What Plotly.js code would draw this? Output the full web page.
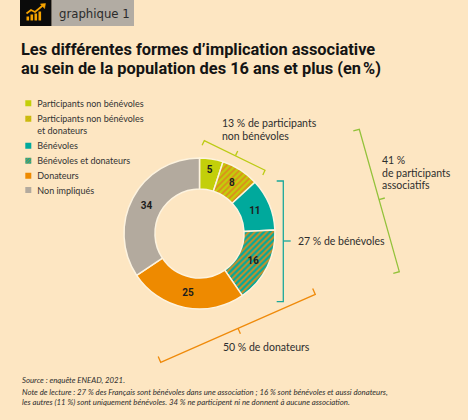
<!DOCTYPE html>
<html><head><meta charset="utf-8">
<script src="https://cdn.plot.ly/plotly-3.0.1.min.js"></script>
<style>html,body{margin:0;padding:0;background:#fde6c2;}#chart{width:468px;height:420px;}</style>
</head><body><div id="chart"></div>
<script>
// ---- data ----
var categories = ['Participants non bénévoles', 'Participants non bénévoles<br>et donateurs', 'Bénévoles', 'Bénévoles et donateurs', 'Donateurs', 'Non impliqués'];
var values = [5, 8, 11, 16, 25, 34];
var sliceColors = ['#c3cf0a', '#c3cf0a', '#00a99c', '#00a99c', '#ee8a00', '#b3aa9e'];
var stripeShapes = ['', '/', '', '/', '', ''];
var stripeColor = '#dc8c1c';
var bracketTexts = ['13 % de participants', 'non bénévoles', '27 % de bénévoles', '41 %', 'de participants', 'associatifs', '50 % de donateurs'];
var titleLines = ['Les différentes formes d\u2019implication associative', 'au sein de la population des 16 ans et plus (en\u202f%)'];
var footLines = ['Source : enquête ENEAD, 2021.',
  'Note de lecture : 27 % des Français sont bénévoles dans une association ; 16 % sont bénévoles et aussi donateurs,',
  'les autres (11 %) sont uniquement bénévoles. 34 % ne participent ni ne donnent à aucune association.'];

var W = 468, H = 420;
function px(x){ return x / W; }
function py(y){ return 1 - y / H; }
function path(pts){ return pts.map(function(p, i){ return (i ? 'L' : 'M') + px(p[0]).toFixed(5) + ',' + py(p[1]).toFixed(5); }).join(' '); }

var txtFont = 'Lato, "Open Sans", sans-serif';
var dark = '#2e2e2e';

var trace = {
  type: 'pie',
  labels: categories,
  values: values,
  sort: false,
  direction: 'clockwise',
  rotation: 0,
  hole: 0.59,
  domain: {x: [px(124), px(275)], y: [py(309), py(158)]},
  marker: {
    colors: sliceColors,
    line: {color: '#fdf3df', width: 1.5},
    pattern: {shape: stripeShapes, fgcolor: stripeColor, bgcolor: sliceColors, fillmode: 'replace', size: 4.2, solidity: 0.45}
  },
  textinfo: 'value',
  textposition: 'inside',
  insidetextorientation: 'horizontal',
  insidetextfont: {family: 'Roboto, sans-serif', size: 10, color: '#1d1d1d', weight: 'bold'},
  hoverinfo: 'skip',
  showlegend: true
};

var shapes = [
  {type: 'rect', xref: 'paper', yref: 'paper', x0: px(20), x1: px(51.7), y0: py(26), y1: py(0), fillcolor: '#0b0b0b', line: {width: 0}},
  {type: 'rect', xref: 'paper', yref: 'paper', x0: px(51.7), x1: px(134), y0: py(26), y1: py(0), fillcolor: '#b2aca3', line: {width: 0}}
];
// icon bars
[[26.5, 16.5], [30.5, 14.5], [34.5, 13.5], [38.5, 11.5]].forEach(function(b){
  shapes.push({type: 'rect', xref: 'paper', yref: 'paper', x0: px(b[0]), x1: px(b[0] + 2.6), y0: py(20.5), y1: py(b[1]), fillcolor: '#f5a300', line: {width: 0}});
});
shapes.push({type: 'path', xref: 'paper', yref: 'paper', path: path([[26.5, 13.5], [31, 10], [35, 12], [42.5, 5.8]]), line: {color: '#f5a300', width: 1.8}});
shapes.push({type: 'path', xref: 'paper', yref: 'paper', path: path([[45.5, 3.5], [44.6, 8.6], [40.4, 3.9]]) + ' Z', fillcolor: '#f5a300', line: {color: '#f5a300', width: 0.5}});

// brackets
var lime = '#bccb14', teal = '#1aa89b', green = '#93c23a', orange = '#ef8a0a';
shapes.push({type: 'path', xref: 'paper', yref: 'paper', path: path([[202.1, 145.3], [204.3, 140.7], [265, 170.2], [262.8, 175]]), line: {color: lime, width: 1.3}});
shapes.push({type: 'path', xref: 'paper', yref: 'paper', path: path([[235.5, 155.6], [237.7, 151]]), line: {color: lime, width: 1.3}});
shapes.push({type: 'path', xref: 'paper', yref: 'paper', path: path([[276.7, 181], [283.3, 181], [283.3, 301.7], [276.7, 301.7]]), line: {color: teal, width: 1.3}});
shapes.push({type: 'path', xref: 'paper', yref: 'paper', path: path([[283.3, 241], [290.7, 241]]), line: {color: teal, width: 1.3}});
shapes.push({type: 'path', xref: 'paper', yref: 'paper', path: path([[353.3, 131], [359.3, 129.3], [399.3, 271.7], [393.3, 273.4]]), line: {color: green, width: 1.3}});
shapes.push({type: 'path', xref: 'paper', yref: 'paper', path: path([[379, 199.6], [384.8, 198]]), line: {color: green, width: 1.3}});
shapes.push({type: 'path', xref: 'paper', yref: 'paper', path: path([[158.2, 356.5], [160.7, 362.3], [315.3, 294.4], [312.7, 288.5]]), line: {color: orange, width: 1.3}});
shapes.push({type: 'path', xref: 'paper', yref: 'paper', path: path([[238, 328.3], [240.4, 333.8]]), line: {color: orange, width: 1.3}});

function ann(text, x, y, opts){
  var a = {text: text, xref: 'paper', yref: 'paper', x: px(x), y: py(y), xanchor: 'left', yanchor: 'middle', showarrow: false,
    font: {family: txtFont, size: 10.5, color: dark}};
  for (var k in opts) a[k] = opts[k];
  return a;
}
var titleFont = {family: 'Roboto, sans-serif', size: 16.4, color: '#141414', weight: 'bold'};
var footFont = {family: txtFont, size: 7.8, color: dark, style: 'italic'};
var annotations = [
  ann('graphique 1', 56.5, 13.5, {font: {family: '"Liberation Sans Narrow", "DejaVu Sans Condensed", Roboto, sans-serif', size: 13, color: '#2b2b2b'}}),
  ann(titleLines.join('<br>'), 18.5, 37.8, {yanchor: 'top', align: 'left', font: titleFont}),
  ann(bracketTexts[0], 220, 122.7),
  ann(bracketTexts[1], 220, 136),
  ann(bracketTexts[2], 296, 241),
  ann(bracketTexts[3], 380, 160),
  ann(bracketTexts[4], 380, 172.5),
  ann(bracketTexts[5], 380, 185),
  ann(bracketTexts[6], 220.5, 347),
  ann(footLines[0], 19.5, 380, {font: footFont}),
  ann(footLines[1], 19.5, 392.3, {font: footFont}),
  ann(footLines[2], 19.5, 402.3, {font: footFont})
];

var layout = {
  width: W, height: H,
  margin: {l: 0, r: 0, t: 0, b: 0, pad: 0, autoexpand: false},
  paper_bgcolor: '#fde6c2',
  plot_bgcolor: 'rgba(0,0,0,0)',
  showlegend: true,
  legend: {x: px(-2.7), xanchor: 'left', y: py(88.8), yanchor: 'top', bgcolor: 'rgba(0,0,0,0)', borderwidth: 0,
    font: {family: txtFont, size: 9, color: '#333'}, traceorder: 'normal'},
  shapes: shapes,
  annotations: annotations
};

var legendTargets = [103.3, 124.5, 145.7, 160.7, 175.7, 190];
Plotly.newPlot('chart', [trace], layout, {staticPlot: true, displayModeBar: false}).then(function(gd){
  var items = gd.querySelectorAll('.legend .traces');
  var y0 = null;
  items.forEach(function(el, i){
    var m = /translate\(\s*([-\d.e]+)\s*,\s*([-\d.e]+)\s*\)/.exec(el.getAttribute('transform') || '');
    if (!m) return;
    var tx = parseFloat(m[1]), ty = parseFloat(m[2]);
    if (y0 === null) y0 = ty;
    el.setAttribute('transform', 'translate(' + tx + ',' + (y0 + legendTargets[i] - legendTargets[0]) + ')');
    var nLines = el.querySelectorAll('.legendtext tspan.line').length || 1;
    var p = el.querySelector('.legendpie');
    if (p) {
      p.setAttribute('transform', 'translate(31,' + (-(nLines - 1) * 9 * 1.3 / 2) + ') scale(0.5)');
      p.style.strokeWidth = '0px';
    }
  });
  // tighten title line spacing towards the reference
  gd.querySelectorAll('.annotation-text').forEach(function(t){
    if (t.textContent.indexOf('Les diff') === 0) {
      var lines = t.querySelectorAll('tspan.line');
      if (lines.length > 1) lines[1].setAttribute('dy', '1.18em');
    }
  });
});
</script></body></html>
